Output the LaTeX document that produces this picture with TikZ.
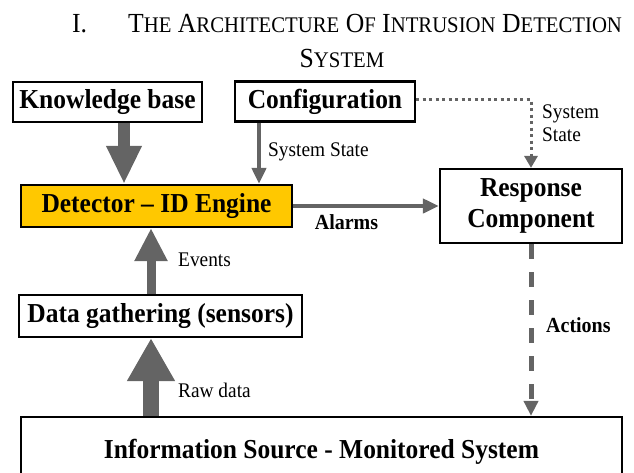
\documentclass[tikz,border=0pt]{standalone}
\usepackage{fontspec}
\setmainfont{Liberation Serif}[FakeStretch=0.93]
\usetikzlibrary{positioning,arrows.meta}
\usepackage{xcolor}
\definecolor{arrgray}{HTML}{646464}
\definecolor{detyellow}{HTML}{FFC800}
\newcommand{\capword}[2]{{\fontsize{27.6}{32}\selectfont #1}{\fontsize{22.3}{26}\selectfont #2}}

\begin{document}
\begin{tikzpicture}[x=1pt, y=-1pt,
      box/.style={draw, line width=2.2pt, inner sep=0pt, align=center, font=\fontsize{27.4}{31}\selectfont\bfseries},
      lbl/.style={inner sep=0pt, font=\fontsize{20.8}{23}\selectfont},
      blbl/.style={inner sep=0pt, font=\fontsize{21.5}{24}\selectfont\bfseries},
      ttl/.style={inner sep=0pt, font=\fontsize{27.6}{32}\selectfont},
      bigarr/.style n args={3}{draw=arrgray, line width=#1, -{Triangle[width=#2, length=#3]}},
      arr/.style={draw=arrgray, line width=4pt, -{Triangle[width=14pt, length=16pt]}},
      dotarr/.style={draw=arrgray, line width=3pt, dash pattern=on 3pt off 3.5pt, -{Triangle[width=13pt, length=12pt]}},
      dasharr/.style={draw=arrgray, line width=5pt, dash pattern=on 15pt off 13pt, -{Triangle[width=14pt, length=15pt]}},
    ]
    \useasboundingbox (0,0) rectangle (634,472);
    \clip (0,0) rectangle (634,472);

    \node[ttl, anchor=base west] (num)    at (72,32)  {I.};
    \node[ttl, anchor=base west] (title)  at (128,32) {\capword{T}{HE} \capword{A}{RCHITECTURE} \capword{O}{F} \capword{I}{NTRUSION} \capword{D}{ETECTION}};
    \node[ttl, anchor=base]      (title2) at (342,67) {\capword{S}{YSTEM}};

    \node[box, minimum width=189pt, minimum height=40pt] (kb)   at (107.5,102) {Knowledge base};
    \node[box, minimum width=180pt, minimum height=40pt] (conf) at (325,101.5) {Configuration};
    \node[box, fill=detyellow, minimum width=271pt, minimum height=42pt] (det) at (156.5,206) {Detector -- ID Engine};
    \node[box, minimum width=182pt, minimum height=74pt] (resp) at (531,206)   {Response\\Component};
    \node[box, minimum width=283pt, minimum height=42pt] (dg)   at (160.5,316) {Data gathering (sensors)};
    \node[box, minimum width=601pt, minimum height=70pt] (src)  at (321.5,452) {Information Source - Monitored System};

    \draw[bigarr={12pt}{33pt}{38pt}] ([xshift=16.5pt]kb.south) -- ([xshift=16.5pt]kb.south |- det.north);
    \draw[arr] ([xshift=-66pt]conf.south) -- ([xshift=-66pt]conf.south |- det.north);
    \draw[dotarr] ([yshift=2pt]conf.east) -| (resp.north);
    \draw[arr] (det.east) -- (det.east -| resp.west);
    \draw[dasharr] (resp.south) -- (resp.south |- src.north);
    \draw[bigarr={9pt}{31pt}{33pt}] ([xshift=-9.5pt]dg.north) -- ([xshift=-9.5pt]dg.north |- det.south);
    \draw[bigarr={16pt}{45pt}{43pt}] ([xshift=-9.5pt]dg.south |- src.north) -- ([xshift=-9.5pt]dg.south);

    \node[lbl, anchor=west] (ssl)   at (268,152) {System State};
    \node[lbl, anchor=west, align=left] (ssr) at (542,123.5) {System\\State};
    \node[blbl] (alarm)             at (346.5,222) {Alarms};
    \node[lbl, anchor=west] (ev)    at (178,260) {Events};
    \node[lbl, anchor=west] (raw)   at (178,390) {Raw data};
    \node[blbl, anchor=west] (act)  at (546,325) {Actions};
  \end{tikzpicture}
\end{document}
